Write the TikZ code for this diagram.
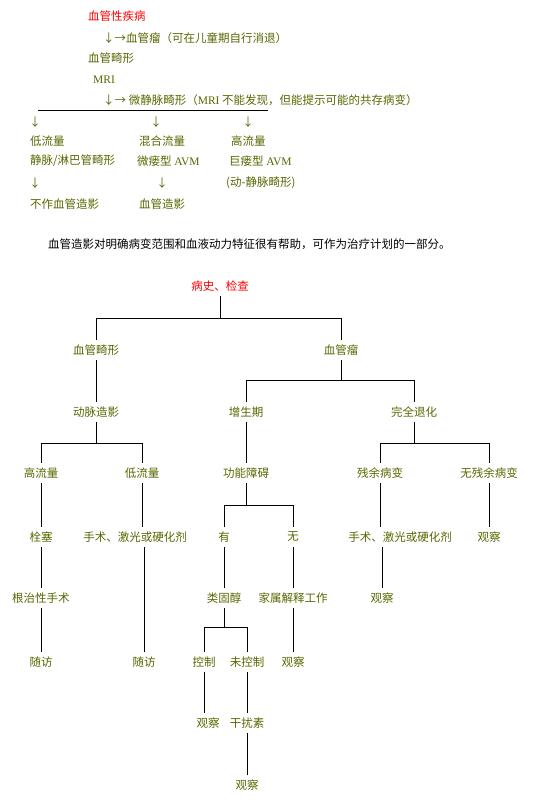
\documentclass[tikz,border=0pt]{standalone}
\usepackage{fontspec}
\setmainfont{Noto Sans CJK SC}
\newfontfamily\latn{Liberation Serif}
\definecolor{olivetxt}{RGB}{90,102,0}
\definecolor{redtxt}{RGB}{255,0,0}

\tikzset{t_style/.style={text=olivetxt, inner sep=0pt, minimum height=20pt, font=\fontsize{11.5}{14}\selectfont}}
\tikzset{r_style/.style={t_style, text=redtxt}}
\tikzset{b_style/.style={t_style, text=black}}
\tikzset{l_style/.style={line width=0.9pt}}

\begin{document}
\begin{tikzpicture}[x=1pt, y=-1pt]
    \useasboundingbox (0,0) rectangle (543,801);

    % upper part: text lines
    \node[r_style, anchor=west] (dis) at (88,16) {血管性疾病};
    \node[t_style, anchor=west] (hem1) at (103,38) {↓→血管瘤（可在儿童期自行消退）};
    \node[t_style, anchor=west] (mal1) at (88,58) {血管畸形};
    \node[t_style, anchor=west] (mri) at (93,80) {\latn MRI};
    \node[t_style, anchor=west] (ven) at (103,100) {↓→ 微静脉畸形（{\latn MRI} 不能发现，但能提示可能的共存病变）};

    \coordinate (bl) at (38,110);
    \coordinate (br) at (268,110);
    \draw[l_style] (bl) -- (br);

    \node[t_style] (ar1) at (35,122) {↓};
    \node[t_style] (ar2) at (156,122) {↓};
    \node[t_style] (ar3) at (248,122) {↓};

    \node[t_style, anchor=west] (low1) at (30,141) {低流量};
    \node[t_style, anchor=west] (mix1) at (139,141) {混合流量};
    \node[t_style, anchor=west] (high1) at (231,141) {高流量};
    \node[t_style, anchor=west] (low2) at (30,161) {静脉/淋巴管畸形};
    \node[t_style, anchor=west] (mix2) at (137,161) {微瘘型 {\latn AVM}};
    \node[t_style, anchor=west] (high2) at (229,161) {巨瘘型 {\latn AVM}};
    \node[t_style] (ar4) at (35,183) {↓};
    \node[t_style] (ar5) at (162,183) {↓};
    \node[t_style, anchor=west] (high3) at (226,183) {(动-静脉畸形)};
    \node[t_style, anchor=west] (low3) at (30,204) {不作血管造影};
    \node[t_style, anchor=west] (mix3) at (139,204) {血管造影};

    \node[b_style, anchor=west] (note) at (48,244) {血管造影对明确病变范围和血液动力特征很有帮助，可作为治疗计划的一部分。};

    % lower part: tree
    \node[r_style] (a) at (220,286) {病史、检查};
    \node[t_style] (b) at (96,350) {血管畸形};
    \node[t_style] (c) at (341,350) {血管瘤};
    \node[t_style] (d) at (96,412) {动脉造影};
    \node[t_style] (e) at (246,412) {增生期};
    \node[t_style] (f) at (414,412) {完全退化};
    \node[t_style] (g) at (41,473) {高流量};
    \node[t_style] (h) at (142,473) {低流量};
    \node[t_style] (i) at (246,473) {功能障碍};
    \node[t_style] (j) at (380,473) {残余病变};
    \node[t_style] (k) at (489,473) {无残余病变};
    \node[t_style] (l) at (41,537) {栓塞};
    \node[t_style] (m) at (135,537) {手术、激光或硬化剂};
    \node[t_style] (n) at (224,537) {有};
    \node[t_style] (o) at (293,537) {无};
    \node[t_style] (p) at (400,537) {手术、激光或硬化剂};
    \node[t_style] (q) at (489,537) {观察};
    \node[t_style] (r) at (41,598) {根治性手术};
    \node[t_style] (s) at (224,598) {类固醇};
    \node[t_style] (t) at (293,598) {家属解释工作};
    \node[t_style] (u) at (382,598) {观察};
    \node[t_style] (v) at (41,662) {随访};
    \node[t_style] (w) at (144,662) {随访};
    \node[t_style] (x) at (204,662) {控制};
    \node[t_style] (y) at (247,662) {未控制};
    \node[t_style] (z) at (293,662) {观察};
    \node[t_style] (aa) at (208,723) {观察};
    \node[t_style] (ab) at (247,723) {干扰素};
    \node[t_style] (ac) at (247,785) {观察};

    \draw[l_style] (a.south) -- ++(0,22) -| (b.north);
    \draw[l_style] (a.south) ++(0,22) -| (c.north);
    \draw[l_style] (c.south) -- ++(0,20) -| (e.north);
    \draw[l_style] (c.south) ++(0,20) -| (f.north);
    \draw[l_style] (d.south) -- ++(0,21) -| (g.north);
    \draw[l_style] (d.south) ++(0,21) -| (h.north);
    \draw[l_style] (f.south) -- ++(0,21) -| (j.north);
    \draw[l_style] (f.south) ++(0,21) -| (k.north);
    \draw[l_style] (i.south) -- ++(0,22) -| (n.north);
    \draw[l_style] (i.south) ++(0,22) -| (o.north);
    \draw[l_style] (s.south) -- ++(0,19) -| (x.north);
    \draw[l_style] (s.south) ++(0,19) -| (y.north);

    \draw[l_style] (b) -- (d);
    \draw[l_style] (e) -- (i);
    \draw[l_style] (g) -- (l);
    \draw[l_style] (l) -- (r);
    \draw[l_style] (r) -- (v);
    \draw[l_style] (h.south) -- (m.north -| h.south);
    \draw[l_style] (m.south -| w.north) -- (w.north);
    \draw[l_style] (n) -- (s);
    \draw[l_style] (o) -- (t);
    \draw[l_style] (t) -- (z);
    \draw[l_style] (x.south) -- (aa.north -| x.south);
    \draw[l_style] (y) -- (ab);
    \draw[l_style] (ab) -- (ac);
    \draw[l_style] (j.south) -- (p.north -| j.south);
    \draw[l_style] (p.south -| u.north) -- (u.north);
    \draw[l_style] (k) -- (q);

\end{tikzpicture}
\end{document}
